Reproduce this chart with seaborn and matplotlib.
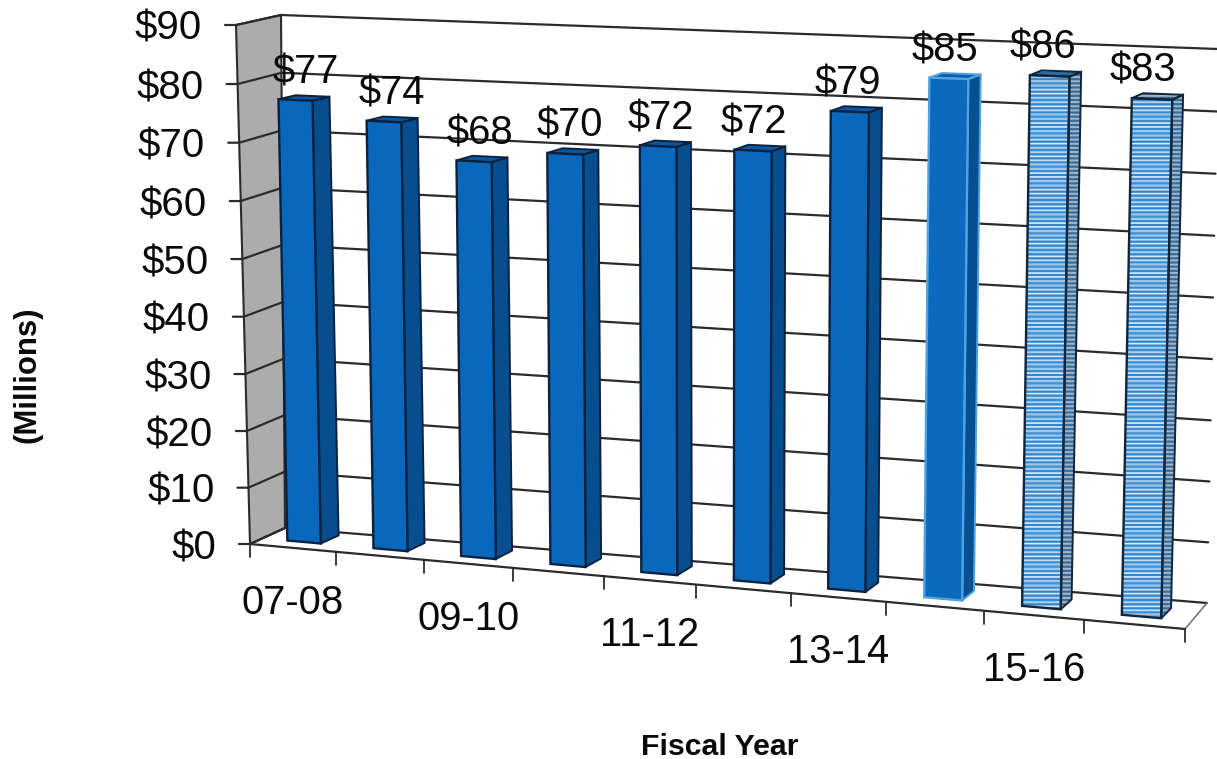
import numpy as np
import pandas as pd
import seaborn as sns
import matplotlib
matplotlib.use("Agg")
import matplotlib.pyplot as plt
from matplotlib.patches import Polygon
from matplotlib.transforms import Affine2D, Transform

# ---- data ----
fiscal_years = ["07-08", "08-09", "09-10", "10-11", "11-12", "12-13", "13-14", "14-15", "15-16", "16-17"]
values = [77, 74, 68, 70, 72, 72, 79, 85, 86, 83]
status = ["Actual"] * 7 + ["Current"] + ["Projected"] * 2
value_ticks = [0, 10, 20, 30, 40, 50, 60, 70, 80, 90]
shown_years = ["07-08", "09-10", "11-12", "13-14", "15-16"]

W, H = 1217, 759
BAR_W = 0.39
FONT = "Liberation Sans"
FACE = {"Actual": "#0A68BC", "Current": "#0B69BE", "Projected": "#3F93D8"}
SIDE = {"Actual": "#064E8E", "Current": "#064F90", "Projected": "#3C6C96"}
TOP = {"Actual": "#0A58A0", "Current": "#0A60AE", "Projected": "#2F6A9C"}
EDGE = {"Actual": "#0A2240", "Current": "#4FA3E0", "Projected": "#10243C"}
STRIPE = "#D6ECFA"
SIDE_STRIPE = "#9DB8CE"
DARK_STRIPE = (0.10, 0.42, 0.72, 0.30)
GRID = "#2B2B2B"
TEXT = "#0A0A0A"


def homography(src, dst):
    rows, rhs = [], []
    for (u, v), (x, y) in zip(src, dst):
        rows.append([u, v, 1, 0, 0, 0, -u * x, -v * x]); rhs.append(x)
        rows.append([0, 0, 0, u, v, 1, -u * y, -v * y]); rhs.append(y)
    return np.append(np.linalg.solve(np.array(rows, float), np.array(rhs, float)), 1).reshape(3, 3)


class Plane(Transform):
    """Perspective map of (category, value) to image pixels."""
    input_dims = output_dims = 2
    has_inverse = False

    def __init__(self, src, dst):
        super().__init__()
        self.m = homography(src, dst)

    def transform_non_affine(self, pts):
        pts = np.asarray(pts, float)
        q = np.c_[pts, np.ones(len(pts))] @ self.m.T
        return q[:, :2] / q[:, 2:]

    def at(self, u, v):
        return self.transform_non_affine([[u, v]])[0]


sns.set_theme(style="white")
plt.rcParams["font.family"] = [FONT, "DejaVu Sans"]
plt.rcParams["hatch.linewidth"] = 1.4

fig = plt.figure(figsize=(W / 100, H / 100), dpi=100)
ax = fig.add_axes([0, 0, 1, 1])
pix = Affine2D().scale(1 / 100, -1 / 100).translate(0, H / 100) + fig.dpi_scale_trans

# planes of the fake 3-D box
src = [(0, 0), (9, 0), (0, 77), (9, 83)]
face_dst = [(304, 542), (1141.5, 616.5), (295.5, 100), (1152, 99)]
back_dst = [(322, 534), (1151.5, 606.5), (312.5, 96), (1163, 94)]
face = Plane(src, face_dst)
rear = Plane(src, back_dst)
wall = Plane([(0, 0), (10, 0), (0, 90), (10, 90)], [(285, 528), (1207, 603), (281, 15), (1218, 49)])
front = Plane([(0, 0), (10, 0), (0, 90), (10, 90)], [(250, 544), (1185, 629), (236, 25), (1197, 62)])

df = pd.DataFrame({"year": fiscal_years, "value": values, "status": status})
sns.barplot(data=df, x="year", y="value", hue="status", dodge=False, width=BAR_W, ax=ax,
            palette=FACE, legend=False, saturation=1)
bars = sorted([p for p in ax.patches if p.get_height() > 0], key=lambda p: p.get_x())

# walls, grid
ax.add_patch(Polygon([front.at(0, 0), front.at(0, 90), wall.at(0, 90), wall.at(0, 0)], closed=True,
                     transform=pix, fc="#ACACAC", ec=GRID, lw=1.5, zorder=1))
for v in value_ticks:
    a, b, c = front.at(0, v), wall.at(0, v), wall.at(10, v)
    tick = a + np.array([-11, 0])
    ax.plot([tick[0], a[0], b[0], c[0]], [tick[1], a[1], b[1], c[1]], color=GRID, lw=1.6, transform=pix,
            zorder=1.5, solid_joinstyle="miter")
    ax.text(a[0] - 34, a[1] + 4, f"${v}", transform=pix, ha="right", va="center",
            fontsize=29, color=TEXT, zorder=9)
ax.plot(*np.array([front.at(10, 0), wall.at(10, 0)]).T, color="#777777", lw=1.2, transform=pix, zorder=1.5)
ax.plot(*np.array([front.at(0, 0), wall.at(0, 0)]).T, color=GRID, lw=1.2, transform=pix, zorder=1.5)
ax.plot(*np.array([front.at(0, 0), front.at(10, 0)]).T, color=GRID, lw=1.6, transform=pix, zorder=1.6)
for u in range(11):
    p = front.at(u, 0)
    ax.plot([p[0], p[0]], [p[1], p[1] + 13], color=GRID, lw=1.3, transform=pix, zorder=1.6)
for i, y in enumerate(fiscal_years):
    if y in shown_years:
        p = front.at(i + 0.5, 0)
        ax.text(p[0], p[1] + 55, y, transform=pix, ha="center", va="center", fontsize=28.8, color=TEXT, zorder=9)

# bars: front from seaborn, side and top from the same bar geometry
for i, b in enumerate(bars):
    s = status[i]
    x0, x1, v = b.get_x(), b.get_x() + b.get_width(), b.get_height()
    z = 3 + i * 0.1
    side_pts = [face.at(x1, 0), face.at(x1, v), rear.at(x1, v), rear.at(x1, 0)]
    top_pts = [face.at(x0, v), face.at(x1, v), rear.at(x1, v), rear.at(x0, v)]
    if s == "Projected":
        front_pts = [face.at(x0, 0), face.at(x1, 0), face.at(x1, v), face.at(x0, v)]
        ax.add_patch(Polygon(side_pts, closed=True, transform=pix, fc=SIDE[s], ec=SIDE_STRIPE, lw=0, hatch="----", zorder=z))
        ax.add_patch(Polygon(top_pts, closed=True, transform=pix, fc=TOP[s], ec=SIDE_STRIPE, lw=0, hatch="--", zorder=z))
        ax.add_patch(Polygon(front_pts, closed=True, transform=pix, fc=FACE[s], ec=STRIPE, lw=0, hatch="----", zorder=z))
        ax.add_patch(Polygon(front_pts, closed=True, transform=pix, fc="none", ec=DARK_STRIPE, lw=0, hatch="-----", zorder=z + 0.005))
        b.set_facecolor("none")
    else:
        ax.add_patch(Polygon(side_pts, closed=True, transform=pix, fc=SIDE[s], ec="none", zorder=z))
        ax.add_patch(Polygon(top_pts, closed=True, transform=pix, fc=TOP[s], ec="none", zorder=z))
    ax.add_patch(Polygon(side_pts, closed=True, transform=pix, fc="none", ec=EDGE[s], lw=1.4, zorder=z + 0.01))
    ax.add_patch(Polygon(top_pts, closed=True, transform=pix, fc="none", ec=EDGE[s], lw=1.4, zorder=z + 0.01))
    b.set_transform(face + pix)
    b.set_edgecolor(EDGE[s])
    b.set_linewidth(1.7)
    b.set_zorder(z + 0.02)
    b.set_clip_on(False)
    top = face.at((x0 + x1) / 2, v)
    ax.text(face.at(i, 0)[0] + 1.5, top[1] - 28, f"${values[i]}", transform=pix, ha="center", va="center",
            fontsize=28.8, color=TEXT, zorder=9)

ax.text(720, 747, "Fiscal Year", transform=pix, ha="center", va="center", fontsize=21.8,
        fontweight="bold", color=TEXT)
ax.text(28, 375, "(Millions)", transform=pix, ha="center", va="center", rotation=90, fontsize=22.4,
        fontweight="bold", color=TEXT)

ax.set_xlim(-0.5, 9.5)
ax.set_ylim(0, 90)
ax.set_axis_off()
fig.savefig("out.png", dpi=100, facecolor="white")
